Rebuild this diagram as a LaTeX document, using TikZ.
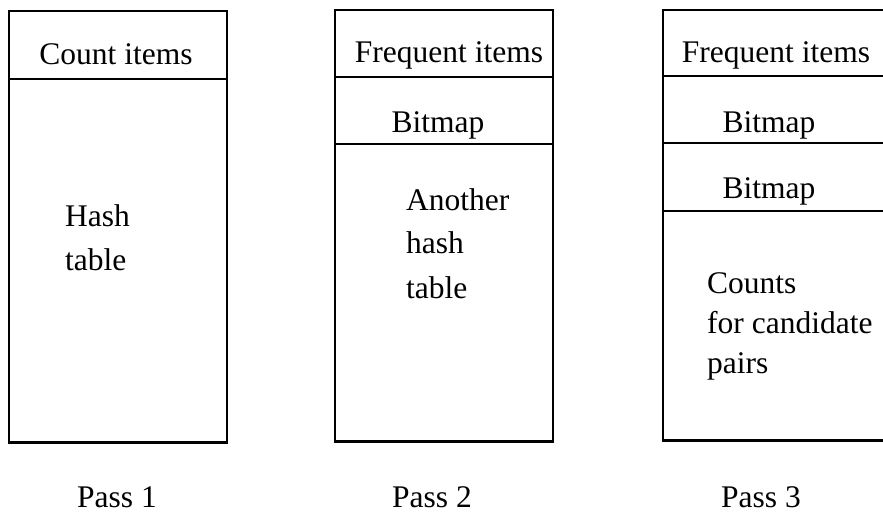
\documentclass[tikz,border=0pt]{standalone}
\usepackage{fontspec}
\setmainfont{Liberation Serif}
\tikzset{
  mem/.style={line width=1.9pt, line cap=rect},
  memsep/.style={line width=1.6pt},
  membase/.style={line width=2.8pt},
  lbl/.style={inner sep=0pt, font=\fontsize{31.5}{36}\selectfont},
}
\begin{document}
\begin{tikzpicture}[x=1pt, y=-1pt]
  \useasboundingbox (0,0) rectangle (883,513);
  \clip (0,0) rectangle (883,513);

  % Pass 1: item counts and one hash table
  \draw[mem] (9,11) rectangle (227,443);
  \draw[memsep] (9,79) -- (227,79);
  \draw[membase] (9,442.5) -- (227,442.5);
  \node[lbl, anchor=base] (c1) at (116,65) {Count items};
  \node[lbl, anchor=base west] (h1a) at (65,226) {Hash};
  \node[lbl, anchor=base west] (h1b) at (65,270) {table};
  \node[lbl, anchor=base] (p1) at (117,507) {Pass 1};

  % Pass 2: frequent items, bitmap, second hash table
  \draw[mem] (335,10) rectangle (553,442);
  \draw[memsep] (335,77) -- (553,77);
  \draw[memsep] (335,144) -- (553,144);
  \draw[membase] (335,441.5) -- (553,441.5);
  \node[lbl, anchor=base] (f2) at (449,63) {Frequent items};
  \node[lbl, anchor=base] (b2) at (438,133) {Bitmap};
  \node[lbl, anchor=base west] (h2a) at (406,211) {Another};
  \node[lbl, anchor=base west] (h2b) at (406,253) {hash};
  \node[lbl, anchor=base west] (h2c) at (406,298) {table};
  \node[lbl, anchor=base] (p2) at (432,507) {Pass 2};

  % Pass 3: frequent items, two bitmaps, candidate pair counts
  \draw[mem] (663,10) rectangle (895,441);
  \draw[memsep] (663,76) -- (895,76);
  \draw[memsep] (663,143) -- (895,143);
  \draw[memsep] (663,211) -- (895,211);
  \draw[membase] (663,440.5) -- (895,440.5);
  \node[lbl, anchor=base] (f3) at (776,63) {Frequent items};
  \node[lbl, anchor=base] (b3a) at (769,133) {Bitmap};
  \node[lbl, anchor=base] (b3b) at (769,199) {Bitmap};
  \node[lbl, anchor=base west] (k3a) at (707,293) {Counts};
  \node[lbl, anchor=base west] (k3b) at (707,333) {for candidate};
  \node[lbl, anchor=base west] (k3c) at (707,373) {pairs};
  \node[lbl, anchor=base] (p3) at (761,507) {Pass 3};
\end{tikzpicture}
\end{document}
